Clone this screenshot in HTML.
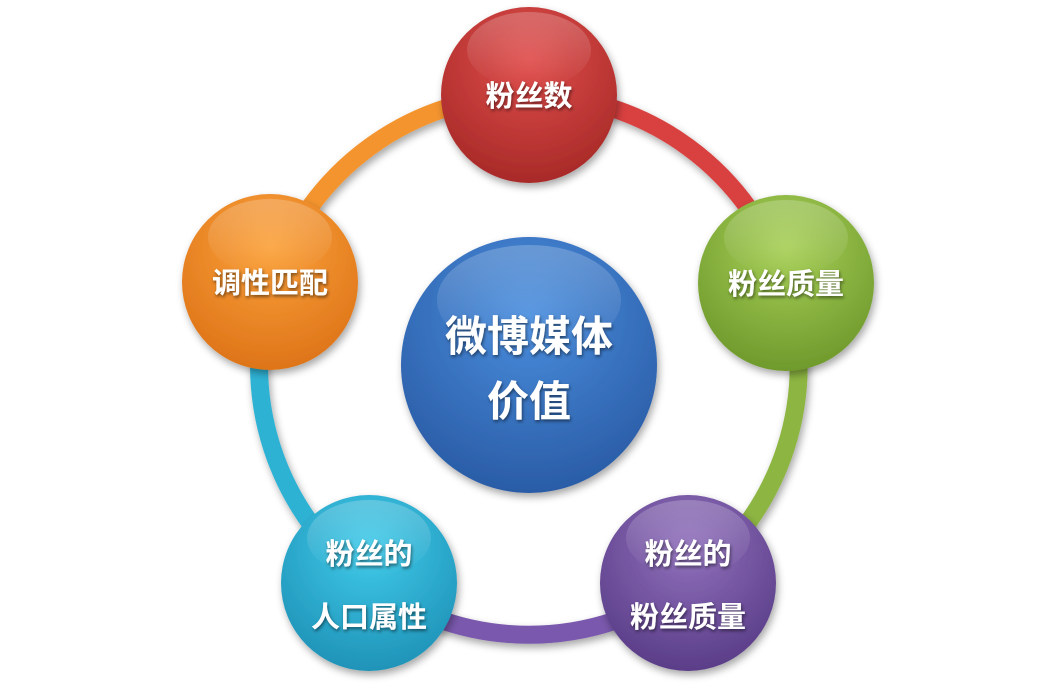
<!DOCTYPE html>
<html><head><meta charset="utf-8"><style>
html,body{margin:0;padding:0;background:#fff;}
svg text{font-family:"Liberation Sans","Noto Sans CJK SC",sans-serif;font-weight:bold;fill:#fff;}
</style></head><body>
<svg width="1058" height="686" viewBox="0 0 1058 686" xmlns="http://www.w3.org/2000/svg">
<defs>
<filter id="sh" x="-30%" y="-30%" width="160%" height="160%"><feDropShadow dx="2" dy="4" stdDeviation="4" flood-color="#000" flood-opacity="0.35"/></filter>
<filter id="ts"><feDropShadow dx="1" dy="2" stdDeviation="1.5" flood-color="#000" flood-opacity="0.5"/></filter>
<radialGradient id="gr" cx="50%" cy="30%" r="70%"><stop offset="0" stop-color="#e04e4c"/><stop offset="1" stop-color="#a82a28"/></radialGradient>
<radialGradient id="gg" cx="50%" cy="30%" r="70%"><stop offset="0" stop-color="#a8d058"/><stop offset="1" stop-color="#6f9a2c"/></radialGradient>
<radialGradient id="gp" cx="50%" cy="30%" r="70%"><stop offset="0" stop-color="#9070bc"/><stop offset="1" stop-color="#5a3d88"/></radialGradient>
<radialGradient id="gc" cx="50%" cy="30%" r="70%"><stop offset="0" stop-color="#40cbea"/><stop offset="1" stop-color="#1f93b8"/></radialGradient>
<radialGradient id="go" cx="50%" cy="30%" r="70%"><stop offset="0" stop-color="#fba23c"/><stop offset="1" stop-color="#de7418"/></radialGradient>
<radialGradient id="gb" cx="50%" cy="30%" r="70%"><stop offset="0" stop-color="#4a8ede"/><stop offset="1" stop-color="#2a5ca6"/></radialGradient>
<linearGradient id="hl" x1="0" y1="0" x2="0" y2="1"><stop offset="0" stop-color="#fff" stop-opacity="0.22"/><stop offset="1" stop-color="#fff" stop-opacity="0"/></linearGradient>
</defs>
<g fill="none" stroke-width="18" filter="url(#sh)">
<path d="M529,95 A270,270 0 0 1 786,283" stroke="#d9413f"/>
<path d="M786,283 A270,270 0 0 1 688,583" stroke="#8db543"/>
<path d="M688,583 A270,270 0 0 1 370,583" stroke="#7a58ad"/>
<path d="M370,583 A270,270 0 0 1 272,282" stroke="#2fb2d4"/>
<path d="M272,282 A270,270 0 0 1 529,95" stroke="#f4942e"/>
</g>
<g filter="url(#sh)">
<circle cx="529" cy="95" r="88" fill="url(#gr)"/>
<circle cx="786" cy="283" r="88" fill="url(#gg)"/>
<circle cx="688" cy="583" r="88" fill="url(#gp)"/>
<circle cx="369" cy="583" r="88" fill="url(#gc)"/>
<circle cx="270" cy="282" r="88" fill="url(#go)"/>
<circle cx="529" cy="365" r="128" fill="url(#gb)"/>
</g>
<g>
<ellipse cx="529" cy="50" rx="62" ry="38" fill="url(#hl)"/>
<ellipse cx="786" cy="238" rx="62" ry="38" fill="url(#hl)"/>
<ellipse cx="688" cy="538" rx="62" ry="38" fill="url(#hl)"/>
<ellipse cx="369" cy="538" rx="62" ry="38" fill="url(#hl)"/>
<ellipse cx="270" cy="237" rx="62" ry="38" fill="url(#hl)"/>
<ellipse cx="529" cy="300" rx="92" ry="55" fill="url(#hl)"/>
</g>
<g filter="url(#ts)" text-anchor="middle">
<text x="529" y="106" font-size="29">粉丝数</text>
<text x="786" y="294" font-size="29">粉丝质量</text>
<text x="688" y="564" font-size="29">粉丝的</text>
<text x="688" y="627" font-size="29">粉丝质量</text>
<text x="369" y="564" font-size="29">粉丝的</text>
<text x="369" y="627" font-size="29">人口属性</text>
<text x="270" y="293" font-size="29">调性匹配</text>
<text x="529" y="351" font-size="42">微博媒体</text>
<text x="529" y="416" font-size="42">价值</text>
</g>
</svg>
</body></html>
